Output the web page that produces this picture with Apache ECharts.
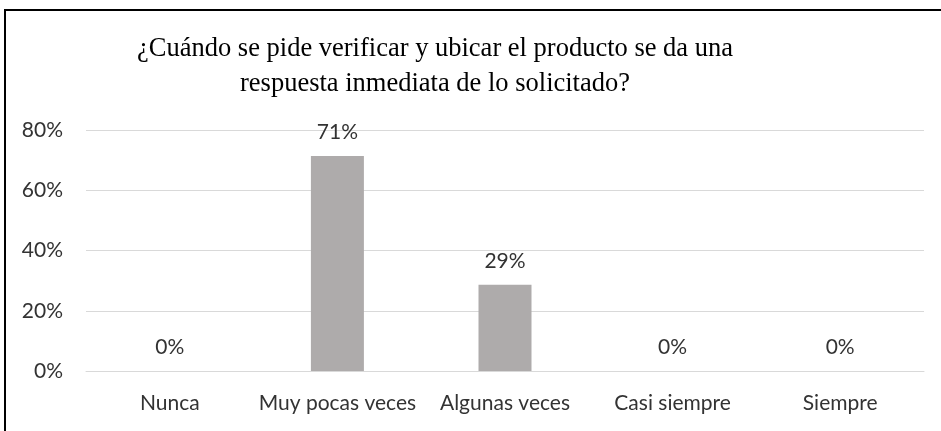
<!DOCTYPE html>
<html>
<head>
<meta charset="utf-8">
<script src="https://cdn.jsdelivr.net/npm/echarts@6/dist/echarts.min.js"></script>
<style>
  html, body { margin: 0; padding: 0; background: #fff; overflow: hidden; }
  #main { position: absolute; left: 0; top: 0; width: 941px; height: 431px; }
  .frame {
    position: absolute; left: 4px; top: 9px; width: 960px; height: 460px;
    border: 2px solid #000; pointer-events: none;
  }
</style>
</head>
<body>
<div id="main"></div>
<div class="frame"></div>
<script>
  const titleText = '¿Cuándo se pide verificar y ubicar el producto se da una\nrespuesta inmediata de lo solicitado?'
  const categories = ['Nunca', 'Muy pocas veces', 'Algunas veces', 'Casi siempre', 'Siempre']
  const percents = [0, 71.4, 28.6, 0, 0]
  const yTicks = { min: 0, max: 80, interval: 20 }

  const labelFont = 'Lato, "Open Sans", sans-serif'
  const chart = echarts.init(document.getElementById('main'))
  const option = {
    animation: false,
    title: {
      text: titleText,
      left: 430,
      top: 27,
      textAlign: 'center',
      textStyle: {
        fontFamily: '"Liberation Serif", "Times New Roman", serif',
        fontWeight: 'normal',
        fontSize: 26.5,
        lineHeight: 35,
        color: '#000'
      }
    },
    grid: { left: 86, right: 17, top: 130, bottom: 60, containLabel: false },
    xAxis: {
      type: 'category',
      data: categories,
      axisTick: { show: false },
      axisLine: { lineStyle: { color: '#d9d9d9', width: 1 } },
      axisLabel: { interval: 0, margin: 22, fontFamily: labelFont, fontSize: 21, color: '#333' }
    },
    yAxis: {
      type: 'value',
      min: yTicks.min,
      max: yTicks.max,
      interval: yTicks.interval,
      axisLine: { show: false },
      axisTick: { show: false },
      splitLine: { lineStyle: { color: '#d9d9d9', width: 1 } },
      axisLabel: {
        margin: 23,
        fontFamily: labelFont,
        fontSize: 21,
        color: '#333',
        formatter: v => v + '%'
      }
    },
    series: [
      {
        type: 'bar',
        data: percents,
        barWidth: 53,
        itemStyle: { color: '#aeabab' },
        label: {
          show: true,
          position: 'top',
          distance: 13,
          fontFamily: labelFont,
          fontSize: 21,
          color: '#333',
          formatter: p => Math.round(p.value) + '%'
        }
      }
    ]
  }
  chart.setOption(option)
</script>
</body>
</html>
